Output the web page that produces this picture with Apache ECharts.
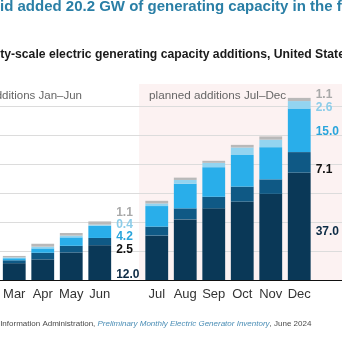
<!DOCTYPE html>
<html><head><meta charset="utf-8">
<script src="https://cdn.jsdelivr.net/npm/echarts/dist/echarts.min.js"></script>
<style>html,body{margin:0;padding:0;background:#fff}#c{width:342px;height:342px}</style>
</head><body><div id="c"></div>
<script>
// ---- data (cumulative GW) ----
const months  = ['Mar','Apr','May','Jun','Jul','Aug','Sep','Oct','Nov','Dec'];
const solar   = [5.8, 7.1, 9.5, 12.0, 15.3, 20.9, 24.7, 27.0, 29.7, 37.0];
const wind    = [1.0, 2.3, 2.3, 2.5, 3.1, 3.8, 4.0, 5.2, 5.0, 7.1];
const battery = [0.7, 1.5, 2.9, 4.2, 7.1, 8.5, 10.2, 10.9, 11.1, 15.0];
const gas     = [0.3, 0.6, 0.6, 0.4, 0.9, 1.3, 1.5, 2.6, 2.6, 2.6];
const other   = [0.5, 1.0, 0.9, 1.1, 0.9, 0.8, 0.7, 0.9, 1.1, 1.1];
const yTicks  = [0, 10, 20, 30, 40, 50, 60];
const labelledMonths = ['Jun', 'Dec'];

// ---- build categories with a gap after Jun and a label column after Dec ----
const cats = [...months.slice(0,4), '', ...months.slice(4), ' '];
function toData(arr){ return [...arr.slice(0,4), '-', ...arr.slice(4), '-']; }

const defs = [
  {name:'solar',   data:solar,   color:'#0a3857', lc:'#0c2b45', jun:[0,12], dec:[0,5]},
  {name:'wind',    data:wind,    color:'#0f5985', lc:'#111111', jun:[0,8],  dec:[0,7]},
  {name:'battery', data:battery, color:'#29aeea', lc:'#2aa5dc', jun:[0,5],  dec:[0,1]},
  {name:'gas',     data:gas,     color:'#93d4f0', lc:'#8ccde9', jun:[0,-1], dec:[0,3]},
  {name:'other',   data:other,   color:'#b9b9b9', lc:'#a9a9a9', jun:[0,-10],dec:[0,-4.5]}
];

const FF = '"Liberation Sans", Arial, sans-serif';
const series = defs.map(d => ({
  name: d.name, type:'bar', stack:'total', clip:false,
  barCategoryGap:'20%', animation:false,
  itemStyle:{color:d.color},
  emphasis:{disabled:true},
  data: toData(d.data).map((v,i) => {
    const c = cats[i];
    if (labelledMonths.includes(c)) {
      return {value:v, label:{show:true, position:'right', distance:5,
        offset: c==='Jun' ? d.jun : d.dec,
        formatter: p => Number(p.value).toFixed(1),
        color:d.lc, fontFamily:FF, fontSize:12, fontWeight:'bold'}};
    }
    return v;
  })
}));

const chart = echarts.init(document.getElementById('c'), null, {renderer:'canvas'});
chart.setOption({
  animation:false,
  grid:{left:-6, right:-4, top:106, bottom:62, containLabel:false},
  xAxis:{type:'category', data:cats,
    axisLine:{lineStyle:{color:'#111', width:1}},
    axisTick:{show:false},
    axisLabel:{color:'#333', fontFamily:FF, fontSize:13, margin:8, interval:0}},
  yAxis:{type:'value', min:yTicks[0], max:yTicks[yTicks.length-1], interval:yTicks[1]-yTicks[0],
    axisLabel:{show:false}, axisLine:{show:false}, axisTick:{show:false},
    splitLine:{lineStyle:{color:'#dcdcdc', width:1}}},
  series
});

// shaded planned region, derived from axis positions
const julX = chart.convertToPixel({xAxisIndex:0}, 5);
const junX = chart.convertToPixel({xAxisIndex:0}, 3);
const band = (julX - junX)/2;
const y0 = chart.convertToPixel({yAxisIndex:0}, 0);
const yTop = chart.convertToPixel({yAxisIndex:0}, yTicks[yTicks.length-1]);
chart.setOption({
  graphic:[
    {type:'rect', z:-10, silent:true,
     shape:{x: julX - band*0.62, y: yTop - 22, width: 400, height: y0 - (yTop - 22)},
     style:{fill:'#fcf2f2'}},
    {type:'text', x:-15, y:7, silent:true,
     style:{text:'grid added 20.2 GW of generating capacity in the first half of 2024',
       fill:'#2a7fa6', font:'bold 15px '+FF, textVerticalAlign:'middle'}},
    {type:'text', x:-21.5, y:55, silent:true,
     style:{text:'utility-scale electric generating capacity additions, United States (2024)',
       fill:'#1a1a1a', font:'bold 12.2px '+FF, textVerticalAlign:'middle'}},
    {type:'text', x:82, y:96, silent:true,
     style:{text:'actual additions Jan\u2013Jun', fill:'#666', font:'11.5px '+FF,
       textAlign:'right', textVerticalAlign:'middle'}},
    {type:'text', x:julX - band*0.62 + 10, y:96, silent:true,
     style:{text:'planned additions Jul\u2013Dec', fill:'#666', font:'11.7px '+FF,
       textVerticalAlign:'middle'}},
    {type:'text', x:-75, y:324, silent:true,
     style:{text:'{n|Source: U.S. Energy Information Administration, }{i|Preliminary Monthly Electric Generator Inventory}{n|, June 2024}',
       textVerticalAlign:'middle',
       rich:{n:{fill:'#4a4a4a', fontSize:8, fontFamily:FF},
             i:{fill:'#4a8db5', fontSize:8, fontFamily:FF, fontStyle:'italic'}}}}
  ]
});
</script>
</body></html>
